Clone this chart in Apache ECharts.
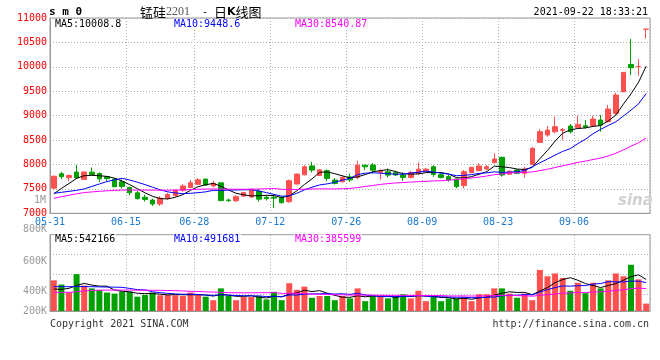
<!DOCTYPE html>
<html><head><meta charset="utf-8">
<script src="https://cdn.jsdelivr.net/npm/echarts@6/dist/echarts.min.js"></script>
<style>html,body{margin:0;padding:0;background:#fff}#c{width:660px;height:360px}</style>
</head><body><div id="c"></div>
<script>
const dates = ['05-31','06-01','06-02','06-03','06-04','06-07','06-08','06-09','06-10','06-11',
'06-15','06-16','06-17','06-18','06-21','06-22','06-23','06-24','06-25','06-28',
'06-29','06-30','07-01','07-02','07-05','07-06','07-07','07-08','07-09','07-12',
'07-13','07-14','07-15','07-16','07-19','07-20','07-21','07-22','07-23','07-26',
'07-27','07-28','07-29','07-30','08-02','08-03','08-04','08-05','08-06','08-09',
'08-10','08-11','08-12','08-13','08-16','08-17','08-18','08-19','08-20','08-23',
'08-24','08-25','08-26','08-27','08-30','08-31','09-01','09-02','09-03','09-06',
'09-07','09-08','09-09','09-10','09-13','09-14','09-15','09-16','09-17'];
const opens = [7515,7810,7730,7845,7695,7843,7816,7750,7700,7645,
7530,7420,7330,7270,7190,7310,7365,7474,7530,7595,
7700,7560,7624,7272,7258,7352,7335,7450,7330,7330,
7324,7237,7600,7787,7970,7775,7872,7680,7646,7745,
7734,7986,7988,7840,7850,7829,7782,7734,7816,7863,
7952,7790,7751,7703,7567,7833,7874,7908,8037,8146,
7800,7887,7819,8003,8453,8603,8671,8700,8787,8753,
8794,8794,8910,8876,9047,9490,10049,10000,10770];
const closes = [7760,7750,7775,7725,7845,7795,7706,7710,7545,7550,
7420,7300,7285,7190,7310,7385,7474,7560,7625,7685,
7578,7615,7260,7258,7340,7424,7492,7290,7300,7310,
7218,7667,7803,7954,7885,7890,7715,7612,7732,7685,
7986,7952,7884,7868,7782,7785,7734,7836,7904,7904,
7795,7734,7683,7546,7853,7942,7969,7955,8112,7785,
7860,7819,7908,8330,8671,8705,8774,8715,8671,8821,
8760,8931,8808,9135,9422,9886,9981,10010,10772];
const lows = [7490,7700,7660,7700,7680,7770,7640,7660,7540,7510,
7370,7280,7240,7150,7150,7280,7340,7440,7510,7580,
7570,7530,7250,7235,7230,7330,7310,7240,7260,7112,
7200,7215,7590,7780,7836,7760,7655,7590,7630,7645,
7693,7884,7816,7692,7734,7765,7665,7710,7782,7850,
7747,7715,7650,7512,7512,7820,7860,7880,8024,7751,
7790,7800,7730,7990,8435,8569,8637,8500,8637,8740,
8740,8780,8672,8862,9020,9480,9831,9818,10580];
const highs = [7770,7850,7795,7990,7865,7940,7836,7760,7720,7690,
7545,7460,7380,7300,7350,7420,7490,7597,7680,7720,
7705,7660,7630,7300,7372,7440,7500,7500,7370,7372,
7340,7693,7815,7986,8056,7905,7898,7720,7780,7815,
8075,7995,8030,7900,7918,7870,7840,7870,8041,7930,
7986,7820,7785,7710,7887,7950,8024,7990,8228,8160,
7880,7900,7950,8360,8720,8787,8979,8750,8829,8999,
8910,8999,9013,9217,9470,9886,10568,10158,10775];
const ma5 = [7400,7510,7610,7715,7771,7778,7769,7756,7720,7661,
7586,7505,7420,7349,7301,7294,7329,7384,7471,7546,
7584,7613,7553,7479,7410,7379,7355,7361,7369,7363,
7322,7357,7460,7590,7705,7840,7849,7811,7767,7727,
7746,7793,7848,7875,7894,7854,7811,7801,7808,7833,
7835,7835,7804,7732,7722,7752,7799,7853,7966,7953,
7936,7906,7897,7940,8118,8287,8478,8639,8707,8737,
8748,8780,8798,8891,9011,9236,9446,9687,10014];
const ma10 = [7410,7430,7450,7470,7500,7550,7600,7650,7685,7716,
7682,7637,7588,7535,7481,7440,7417,7402,7410,7423,
7439,7471,7468,7475,7478,7482,7484,7457,7424,7387,
7351,7356,7410,7480,7534,7581,7603,7635,7679,7716,
7793,7821,7830,7821,7811,7800,7802,7824,7842,7864,
7844,7823,7803,7770,7777,7793,7817,7829,7849,7837,
7844,7852,7875,7953,8035,8111,8192,8268,8324,8427,
8517,8629,8719,8799,8874,8992,9113,9243,9453];
const ma30 = [7308,7340,7370,7400,7424,7438,7450,7460,7468,7475,
7476,7476,7475,7474,7474,7474,7475,7478,7485,7492,
7496,7498,7496,7494,7493,7492,7494,7498,7503,7509,
7491,7488,7489,7496,7498,7501,7501,7498,7504,7509,
7528,7549,7569,7592,7608,7621,7630,7639,7648,7655,
7663,7667,7681,7690,7707,7725,7741,7763,7790,7806,
7827,7832,7836,7848,7874,7902,7937,7974,8005,8043,
8069,8101,8132,8174,8229,8299,8374,8446,8542];
const volumes = [527000,455000,317000,634000,437000,389000,360000,317000,299000,335000,
335000,246000,276000,317000,271000,276000,271000,258000,317000,276000,
246000,186000,389000,258000,186000,240000,240000,258000,199000,330000,
186000,478000,365000,419000,228000,258000,258000,186000,258000,217000,
389000,169000,258000,258000,217000,258000,288000,217000,348000,169000,
258000,169000,217000,217000,240000,169000,288000,288000,389000,389000,
299000,228000,299000,186000,706000,598000,646000,568000,348000,485000,
306000,485000,389000,527000,646000,598000,795000,544000,127000];
const volMa5 = [378000,372000,390000,440000,474000,446000,427000,427000,360000,340000,
329000,306000,298000,302000,289000,277000,282000,279000,279000,280000,
274000,257000,283000,271000,253000,252000,263000,236000,225000,253000,
243000,290000,312000,356000,335000,350000,306000,270000,238000,235000,
262000,244000,258000,258000,258000,232000,256000,248000,266000,256000,
256000,232000,232000,206000,220000,202000,226000,240000,275000,305000,
331000,319000,321000,280000,344000,403000,487000,541000,573000,529000,
471000,438000,403000,438000,471000,529000,591000,622000,542000];
const volMa10 = [419000,419000,418000,420000,420000,418000,415000,412000,410000,407000,
388000,367000,363000,331000,315000,303000,294000,288000,290000,284000,
275000,269000,281000,275000,266000,263000,260000,260000,248000,253000,
247000,276000,274000,290000,294000,296000,298000,291000,297000,285000,
306000,275000,264000,248000,247000,247000,250000,253000,262000,257000,
244000,244000,240000,236000,238000,229000,229000,236000,240000,262000,
267000,272000,281000,278000,324000,367000,403000,431000,427000,436000,
437000,463000,472000,506000,500000,500000,515000,512000,490000];
const volMa30 = [320000,320000,322000,330000,345000,355000,358000,360000,360000,360000,
360000,358000,358000,356000,355000,352000,350000,345000,338000,335000,
330000,325000,320000,316000,314000,313000,313000,314000,315000,315000,
303000,304000,306000,299000,292000,287000,284000,280000,278000,274000,
276000,274000,273000,271000,269000,269000,269000,268000,269000,265000,
266000,265000,259000,258000,260000,257000,259000,260000,266000,268000,
272000,264000,262000,254000,270000,281000,294000,307000,310000,319000,
316000,326000,331000,340000,354000,365000,382000,393000,386000];
const xLabelDates = ['05-31','06-15','06-28','07-12','07-26','08-09','08-23','09-06'];
const volTickLabels = ['200K','400K','600K','800K'];
const volTickPos = [0, 20, 50, 82];

const RED = '#ff5050', GREEN = '#00a000';
const MONO = '"DejaVu Sans Mono","Liberation Mono",monospace';
const GRIDC = '#aaaaaa', BORDER = '#999999';
const showAt = (idx, val) => xLabelDates.indexOf(val) >= 0;

const chart = echarts.init(document.getElementById('c'));
const candleData = dates.map((d, i) => [opens[i], closes[i], lows[i], highs[i]]);
const volData = volumes.map((v, i) => ({ value: v, itemStyle: { color: closes[i] >= opens[i] ? RED : GREEN } }));

function txt(text, x, y, color, opts) {
  return Object.assign({ type: 'text', z: 100, style: Object.assign({ text, x, y, fill: color, font: '10px ' + MONO, align: 'left', verticalAlign: 'middle' }, opts || {}) });
}

chart.setOption({
  animation: false,
  backgroundColor: '#fff',
  grid: [
    { left: 50, right: 10, top: 18, height: 195.3, show: true, borderColor: BORDER, borderWidth: 1 },
    { left: 50, right: 10, top: 234.7, height: 76.3, show: true, borderColor: BORDER, borderWidth: 1 },
    { left: 50, right: 10, top: 229, height: 82, show: false }
  ],
  xAxis: [
    { type: 'category', gridIndex: 0, data: dates, boundaryGap: true,
      axisLine: { lineStyle: { color: BORDER } }, axisTick: { show: false },
      axisLabel: { interval: showAt, color: '#1a7ad0', fontFamily: MONO, fontSize: 10, margin: 4, padding: [0, 7.6, 0, 0] },
      splitLine: { show: true, interval: showAt, lineStyle: { color: GRIDC, type: [1, 2] } } },
    { type: 'category', gridIndex: 1, data: dates, boundaryGap: true,
      axisLine: { lineStyle: { color: BORDER } }, axisTick: { show: false }, axisLabel: { show: false },
      splitLine: { show: true, interval: showAt, lineStyle: { color: GRIDC, type: [1, 2] } } },
    { type: 'category', gridIndex: 2, data: dates, show: false }
  ],
  yAxis: [
    { type: 'value', gridIndex: 0, min: 7000, max: 11000, interval: 500, scale: true,
      axisLine: { show: true, lineStyle: { color: BORDER } }, axisTick: { show: false },
      axisLabel: { color: '#ff0000', fontFamily: MONO, fontSize: 10, margin: 3, padding: [0, 0, 3, 0], formatter: (v) => String(v) },
      splitLine: { show: true, lineStyle: { color: GRIDC, type: [1, 2] } } },
    { type: 'value', gridIndex: 1, min: 0, max: 1312000,
      axisLine: { show: true, lineStyle: { color: BORDER } }, axisTick: { show: false },
      axisLabel: { show: false }, splitLine: { show: false } },
    { type: 'value', gridIndex: 1, min: 0, max: 3.815, interval: 1, inverse: true, position: 'right',
      axisLine: { show: false }, axisTick: { show: false }, axisLabel: { show: false },
      splitLine: { show: true, lineStyle: { color: GRIDC, type: [1, 2] } } },
    { type: 'value', gridIndex: 2, min: 0, max: 82,
      axisLine: { show: false }, axisTick: { show: false }, splitLine: { show: false },
      axisLabel: { customValues: volTickPos, color: '#999999', fontFamily: MONO, fontSize: 10, margin: 3,
        formatter: (v) => volTickLabels[volTickPos.indexOf(v)] || '' } }
  ],
  series: [
    { type: 'candlestick', xAxisIndex: 0, yAxisIndex: 0, data: candleData, barWidth: 5,
      itemStyle: { color: RED, color0: GREEN, borderColor: RED, borderColor0: GREEN, borderWidth: 1 } },
    { type: 'line', xAxisIndex: 0, yAxisIndex: 0, data: ma5, symbol: 'none', lineStyle: { color: '#000', width: 1 } },
    { type: 'line', xAxisIndex: 0, yAxisIndex: 0, data: ma10, symbol: 'none', lineStyle: { color: '#0000ff', width: 1 } },
    { type: 'line', xAxisIndex: 0, yAxisIndex: 0, data: ma30, symbol: 'none', lineStyle: { color: '#ff00ff', width: 1 } },
    { type: 'bar', xAxisIndex: 1, yAxisIndex: 1, data: volData, barWidth: 6 },
    { type: 'line', xAxisIndex: 1, yAxisIndex: 1, data: volMa5, symbol: 'none', lineStyle: { color: '#000', width: 1 } },
    { type: 'line', xAxisIndex: 1, yAxisIndex: 1, data: volMa10, symbol: 'none', lineStyle: { color: '#0000ff', width: 1 } },
    { type: 'line', xAxisIndex: 1, yAxisIndex: 1, data: volMa30, symbol: 'none', lineStyle: { color: '#ff00ff', width: 1 } }
  ],
  graphic: [
    txt('s m 0', 49, 12, '#000', { font: 'bold 11px ' + MONO }),
    { type: 'text', z: 100, style: { x: 140, y: 12, verticalAlign: 'middle', align: 'left',
      text: '{a|锰硅}{b|2201}{d|  - }{a|日}{k|K}{a|线图}',
      rich: {
        a: { font: '13px "Noto Sans CJK SC"', fill: '#000' },
        b: { font: '12px "Liberation Serif"', fill: '#555' },
        d: { font: '10px ' + MONO, fill: '#000' },
        k: { font: 'bold 11px "DejaVu Sans"', fill: '#000' }
      } } },
    txt('2021-09-22 18:33:21', 648, 12.5, '#000', { align: 'right' }),
    txt('MA5:10008.8', 54, 24.5, '#000', { backgroundColor: '#fff', padding: [0, 1] }),
    txt('MA10:9448.6', 173, 24.5, '#0000ff', { backgroundColor: '#fff', padding: [0, 1] }),
    txt('MA30:8540.87', 294, 24.5, '#ff00ff', { backgroundColor: '#fff', padding: [0, 1] }),
    txt('MA5:542166', 54, 239.5, '#000', { backgroundColor: '#fff', padding: [0, 1] }),
    txt('MA10:491681', 173, 239.5, '#0000ff', { backgroundColor: '#fff', padding: [0, 1] }),
    txt('MA30:385599', 294, 239.5, '#ff00ff', { backgroundColor: '#fff', padding: [0, 1] }),
    txt('1M', 46, 200.5, '#999999', { align: 'right' }),
    txt('Copyright 2021 SINA.COM', 50, 324, '#333'),
    txt('http://finance.sina.com.cn', 649, 324, '#333', { align: 'right' }),
    { type: 'text', z: 1, style: { x: 618, y: 201, text: 'sina', fill: '#d0d0d0', font: 'italic bold 15px "DejaVu Sans"', verticalAlign: 'middle' } }
  ]
});
</script>
</body></html>
